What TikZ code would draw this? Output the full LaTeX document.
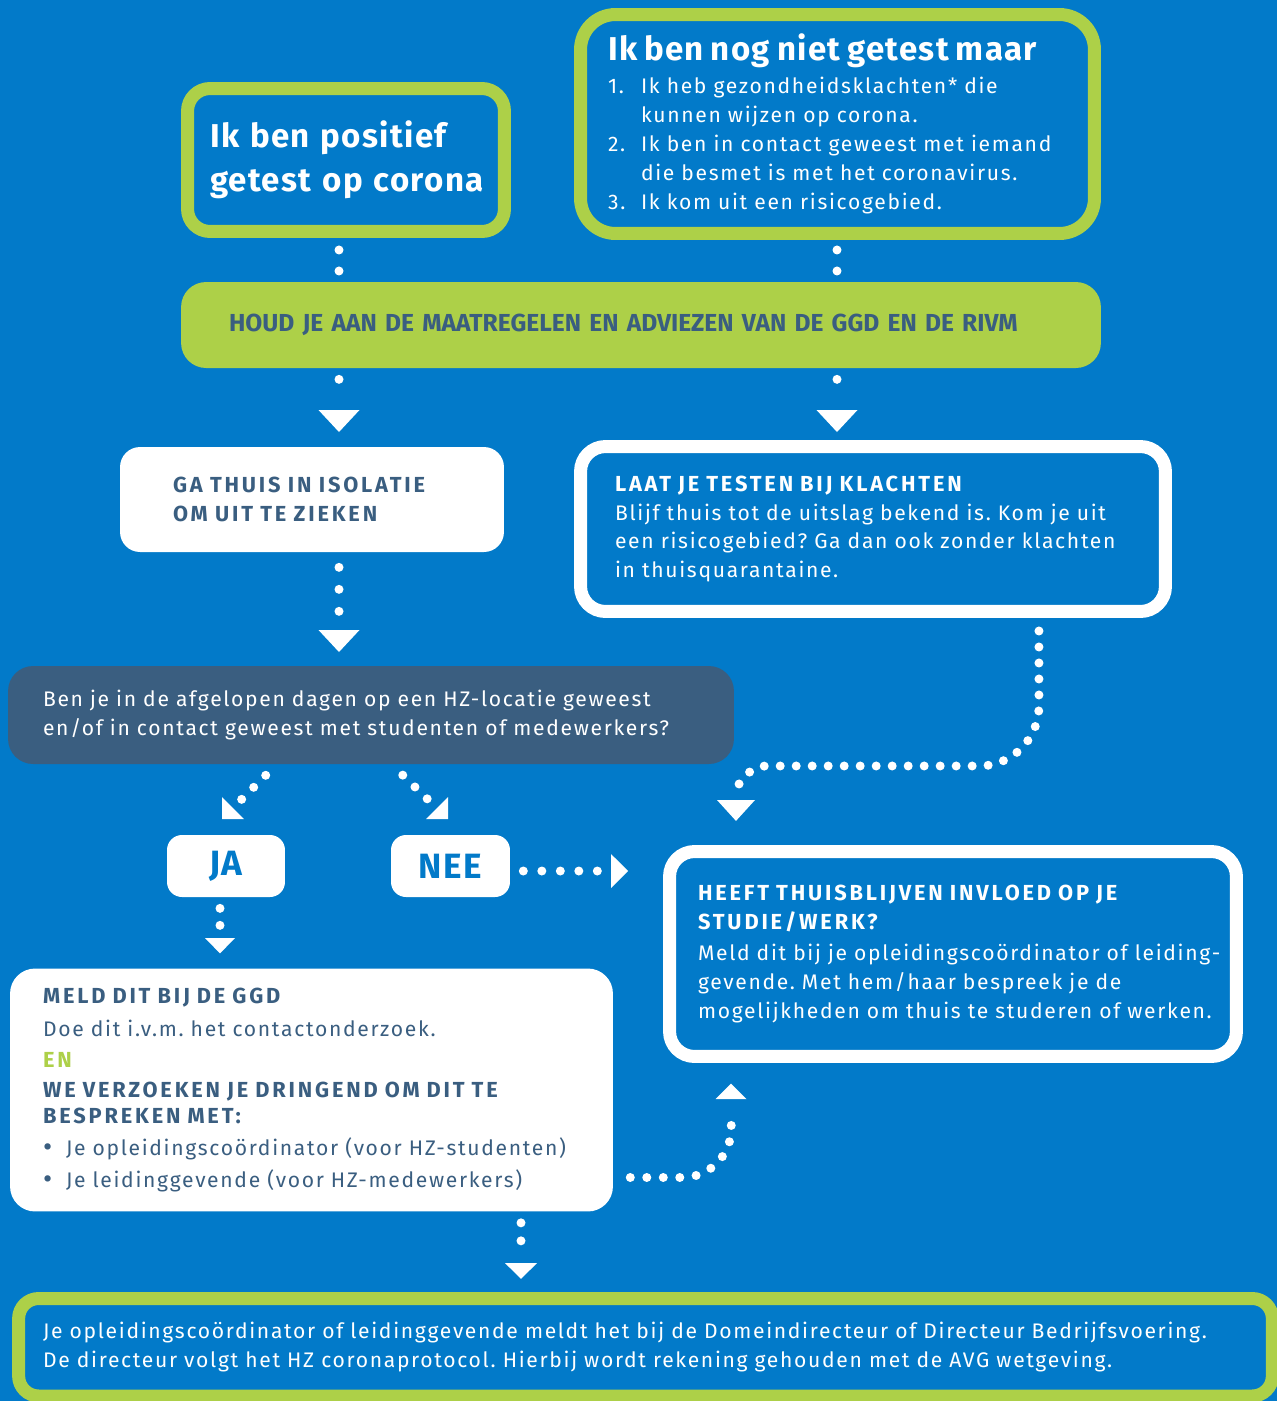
\documentclass[tikz,border=0pt]{standalone}
\usepackage{fontspec}
\setmainfont{Fira Sans}[LetterSpace=8,BoldFeatures={LetterSpace=13}]
\newfontfamily\kopfont{Fira Sans}[LetterSpace=4]
\newfontfamily\balkfont{Fira Sans}
\usetikzlibrary{positioning}

\definecolor{hzblauw}{RGB}{2,122,201}
\definecolor{hzgroen}{RGB}{173,208,72}
\definecolor{hzleisteen}{RGB}{58,94,128}

\newcommand{\lijst}[1]{\makebox[0.66cm][l]{#1}}
\newcommand{\inspring}{\hspace*{0.66cm}}
\newcommand{\opsom}{\makebox[0.46cm][l]{\raisebox{-0.03cm}{\fontsize{16}{16}\selectfont\textbullet}}}
\newcommand{\titel}{\fontsize{18.8}{25}\kopfont\bfseries}
\newcommand{\kopje}[1]{{\fontsize{12.4}{16.5}\selectfont\bfseries #1}}
\frenchspacing

\begin{document}
\begin{tikzpicture}[x=0.02cm,y=-0.02cm,
    tekst/.style={font=\fontsize{12}{16.5}\selectfont,align=left,inner ysep=0pt},
    groenkader/.style={draw=hzgroen,line width=0.26cm,fill=hzblauw,text=white},
    witkader/.style={draw=white,line width=0.26cm,fill=hzblauw,text=white},
    witvlak/.style={fill=white,text=hzleisteen},
    keuze/.style={witvlak,text=hzblauw,font=\fontsize{20}{22}\kopfont\bfseries,rounded corners=0.3cm,minimum height=1.24cm},
    stippel/.style={draw=white,line width=0.18cm,line cap=round,dash pattern=on 0pt off #1},
    stippel/.default=0.34cm,
    pijl/.pic={\fill[white] (-1,0) -- (1,0) -- (0,1.1) -- cycle;},
    hoekpijl/.pic={\fill[white] (0,0) -- (0,-1) -- (1,0) -- cycle;}]

  \useasboundingbox (0,0) rectangle (1277,1401);
  \fill[hzblauw] (0,0) rectangle (1277,1401);

  \node [groenkader,tekst,font=\titel,rounded corners=0.45cm,minimum width=6.34cm,minimum height=2.86cm,
    text width=5.44cm,inner xsep=0.45cm] (positief) at (346,160)
    {\mbox{Ik ben positief}\\\mbox{getest op corona}};

  \node [groenkader,tekst,rounded corners=0.7cm,minimum width=10.28cm,minimum height=4.38cm,
    text width=9.18cm,inner xsep=0.55cm] (nognietgetest) at (837.5,124)
    {{\titel Ik ben nog niet getest maar}\\[0.07cm]
     \lijst{1.}Ik heb gezondheidsklachten* die\\
     \inspring kunnen wijzen op corona.\\
     \lijst{2.}Ik ben in contact geweest met iemand\\
     \inspring die besmet is met het coronavirus.\\
     \lijst{3.}Ik kom uit een risicogebied.};

  \node [fill=hzgroen,text=hzleisteen,rounded corners=0.5cm,minimum width=18.4cm,minimum height=1.72cm,
    text width=16.48cm,inner xsep=0.96cm,align=left,font=\fontsize{14}{16}\balkfont\bfseries] (maatregelen) at (641,325)
    {HOUD JE AAN DE MAATREGELEN EN ADVIEZEN VAN DE GGD EN DE RIVM};

  \node [witvlak,tekst,font=\fontsize{12.4}{16.5}\selectfont\bfseries,rounded corners=0.4cm,
    minimum width=7.68cm,minimum height=2.1cm,text width=5.56cm,inner xsep=1.06cm] (isolatie) at (312,499.5)
    {GA THUIS IN ISOLATIE\\OM UIT TE ZIEKEN};

  \node [witkader,tekst,rounded corners=0.5cm,minimum width=11.7cm,minimum height=3.3cm,
    text width=10.32cm,inner xsep=0.69cm] (testen) at (873,529)
    {\kopje{LAAT JE TESTEN BIJ KLACHTEN}\\
     Blijf thuis tot de uitslag bekend is. Kom je uit\\
     een risicogebied? Ga dan ook zonder klachten\\
     in thuisquarantaine.};

  \node [fill=hzleisteen,text=white,tekst,rounded corners=0.5cm,minimum width=14.52cm,minimum height=1.96cm,
    text width=13.12cm,inner xsep=0.7cm] (vraag) at (371,715)
    {Ben je in de afgelopen dagen op een HZ-locatie geweest\\
     en/of in contact geweest met studenten of medewerkers?};

  \node [keuze,minimum width=2.36cm] (ja) at (226,866) {JA};
  \node [keuze,minimum width=2.38cm] (nee) at (450.5,866) {NEE};

  \node [witkader,tekst,rounded corners=0.5cm,minimum width=11.34cm,minimum height=4.1cm,
    text width=10.2cm,inner xsep=0.57cm] (thuisblijven) at (953,954)
    {\kopje{HEEFT THUISBLIJVEN INVLOED OP JE}\\
     \kopje{STUDIE/WERK?}\\[0.05cm]
     \mbox{Meld dit bij je opleidingscoördinator of leiding-}\\
     gevende. Met hem/haar bespreek je de\\
     \mbox{mogelijkheden om thuis te studeren of werken.}};

  \node [witvlak,tekst,rounded corners=0.5cm,minimum width=12.06cm,minimum height=4.86cm,
    text width=10.74cm,inner xsep=0.66cm] (melden) at (311.5,1090)
    {\kopje{MELD DIT BIJ DE GGD}\\[0.08cm]
     Doe dit i.v.m. het contactonderzoek.\\[0.04cm]
     \kopje{\color{hzgroen}EN}\\[0.02cm]
     \kopje{WE VERZOEKEN JE DRINGEND OM DIT TE}\\[-0.06cm]
     \kopje{BESPREKEN MET:}\\[0.06cm]
     \opsom Je opleidingscoördinator (voor HZ-studenten)\\[0.06cm]
     \opsom Je leidinggevende (voor HZ-medewerkers)};

  \node [groenkader,tekst,rounded corners=0.4cm,minimum width=25.08cm,minimum height=1.95cm,
    text width=24.1cm,inner xsep=0.49cm] (protocol) at (645.5,1347.25)
    {Je opleidingscoördinator of leidinggevende meldt het bij de Domeindirecteur of Directeur Bedrijfsvoering.\\
     De directeur volgt het HZ coronaprotocol. Hierbij wordt rekening gehouden met de AVG wetgeving.};

  \coordinate (pijlA) at (339,410);
  \coordinate (pijlB) at (837,410);
  \coordinate (pijlC) at (339,630);
  \coordinate (pijlD) at (736,800);
  \coordinate (pijlJA) at (222,819);
  \coordinate (pijlNEE) at (448,819);
  \coordinate (pijlNF) at (611,871);
  \coordinate (pijlG) at (220,938);
  \coordinate (pijlGF) at (731,1099);
  \coordinate (pijlH) at (521,1263);

  \draw [stippel=0.42cm,shorten <=0.24cm,shorten >=0.21cm] (positief.south -| pijlA) -- (maatregelen.north -| pijlA);
  \draw [stippel=0.42cm,shorten <=0.2cm,shorten >=0.21cm] (nognietgetest.south -| pijlB) -- (maatregelen.north -| pijlB);
  \draw [stippel=0.6cm,shorten <=0.22cm,shorten >=0.4cm] (maatregelen.south -| pijlA) -- (pijlA);
  \draw [stippel=0.6cm,shorten <=0.22cm,shorten >=0.4cm] (maatregelen.south -| pijlB) -- (pijlB);
  \draw [stippel=0.44cm,shorten <=0.3cm,shorten >=0.37cm] (isolatie.south -| pijlC) -- (pijlC);
  \draw [stippel=0.32cm,shorten <=0.26cm,shorten >=0.14cm] ([xshift=-2.66cm]testen.south east) -- ++(0,88)
    .. controls +(0,33) and +(33,0) .. ++(-60,60) -- ++(-213,0)
    .. controls +(-16,0) and +(0,-16) .. (pijlD);
  \draw [stippel=0.34cm,shorten <=0.31cm,shorten >=0.55cm] ([xshift=5.38cm]vraag.south west) -- (pijlJA);
  \draw [stippel=0.34cm,shorten <=0.31cm,shorten >=0.55cm] ([xshift=7.68cm]vraag.south west) -- (pijlNEE);
  \draw [stippel=0.37cm,shorten <=0.26cm,shorten >=0.27cm] (nee.east |- pijlNF) -- (pijlNF);
  \draw [stippel=0.34cm,shorten <=0.22cm,shorten >=0.25cm] (ja.south -| pijlG) -- (pijlG);
  \draw [stippel=0.33cm,shorten <=0.34cm,shorten >=0.24cm] ([yshift=-1.75cm]melden.east) -- ++(69,0)
    .. controls +(27,0) and +(0,27) .. ++(49,-49) -- (pijlGF);
  \draw [stippel=0.36cm,shorten <=0.22cm,shorten >=0.15cm] (melden.south -| pijlH) -- (pijlH);

  \pic [xscale=20.5,yscale=20] at (pijlA) {pijl};
  \pic [xscale=20.5,yscale=20] at (pijlB) {pijl};
  \pic [xscale=20.5,yscale=20] at (pijlC) {pijl};
  \pic [xscale=19,yscale=19] at (pijlD) {pijl};
  \pic [scale=22] at (pijlJA) {hoekpijl};
  \pic [xscale=-22,yscale=22] at (pijlNEE) {hoekpijl};
  \pic [rotate=90,xscale=17,yscale=15.5] at (pijlNF) {pijl};
  \pic [xscale=15,yscale=14] at (pijlG) {pijl};
  \pic [rotate=180,xscale=15.5,yscale=14] at (pijlGF) {pijl};
  \pic [xscale=16,yscale=14.5] at (pijlH) {pijl};

\end{tikzpicture}
\end{document}
